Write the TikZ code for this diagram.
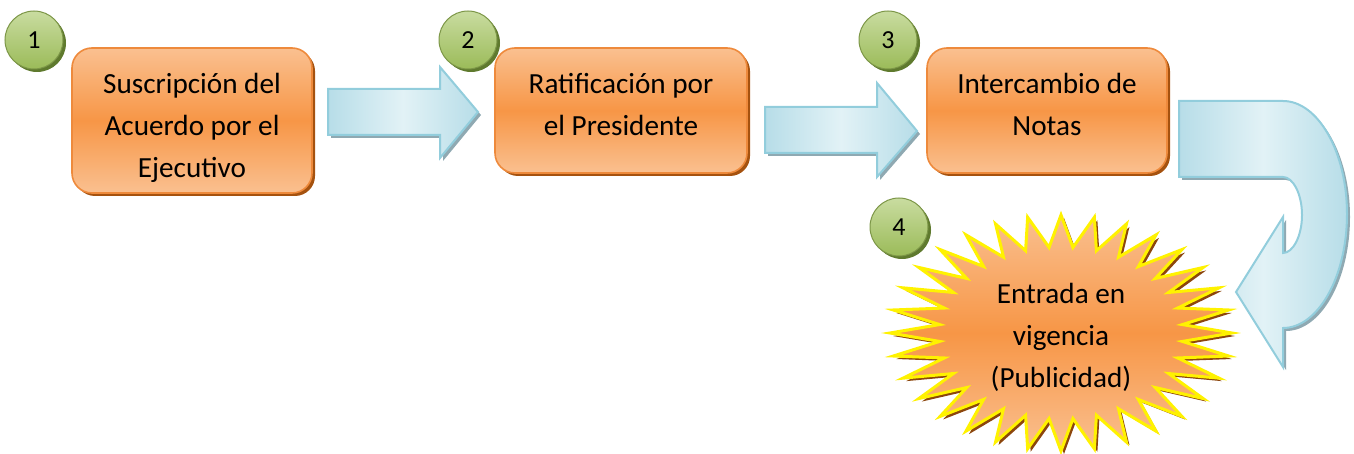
\documentclass[tikz,border=0pt]{standalone}
\usepackage{fontspec}
\setmainfont{Carlito}
\usepackage{xcolor}
\usetikzlibrary{shadows}

\definecolor{naranja}{HTML}{F79646}
\definecolor{naranjaclaro}{HTML}{FAC090}
\definecolor{naranjaborde}{HTML}{EE8A3C}
\definecolor{sombra}{HTML}{A5520F}
\definecolor{verde}{HTML}{9BBB59}
\definecolor{verdeclaro}{HTML}{C9DCA0}
\definecolor{verdeoscuro}{HTML}{5F7A2E}
\definecolor{celeste}{HTML}{E2F2F6}
\definecolor{celestemedio}{HTML}{B7DDE8}
\definecolor{celesteborde}{HTML}{92CDDC}
\definecolor{grisazul}{HTML}{8FA9B2}

\begin{document}
\begin{tikzpicture}[x=0.5pt,y=-0.5pt]
\tikzstyle{paso}=[draw=naranjaborde,line width=0.8pt,rounded corners=10pt,top color=naranjaclaro,bottom color=naranjaclaro,middle color=naranja,align=center,font=\fontsize{14.6}{21}\selectfont,drop shadow={shadow xshift=1.5pt,shadow yshift=-1.5pt,fill=sombra,opacity=1}];
\tikzstyle{numero}=[circle,draw=verde!80!black,line width=0.5pt,minimum size=29pt,inner sep=0pt,top color=verdeclaro,bottom color=verde,font=\fontsize{13}{15}\selectfont,drop shadow={shadow xshift=1.5pt,shadow yshift=-1.5pt,fill=verdeoscuro,opacity=1}];
\tikzstyle{flecha}=[draw=celesteborde,line width=1pt,line join=miter,left color=celestemedio,right color=celestemedio,middle color=celeste,drop shadow={shadow xshift=1.5pt,shadow yshift=-1.5pt,fill=grisazul,opacity=1}];
\tikzstyle{estrella}=[draw=yellow,line width=1.5pt,line join=miter,top color=naranjaclaro,bottom color=naranjaclaro,middle color=naranja,drop shadow={shadow xshift=1.5pt,shadow yshift=-1.5pt,fill=sombra!85!black,opacity=1}];
\useasboundingbox (0,0) rectangle (1354,454);

\node[paso,minimum width=120pt,minimum height=72.5pt](s1) at (192,120.5) {\rule{0pt}{18pt}Suscripción del\\Acuerdo por el\\Ejecutivo};
\node[paso,minimum width=126pt,minimum height=62.5pt](s2) at (621,110.5) {Ratificación por\\el Presidente\rule[-6pt]{0pt}{6pt}};
\node[paso,minimum width=120pt,minimum height=62.5pt](s3) at (1047,110.5) {Intercambio de\\Notas\rule[-6pt]{0pt}{6pt}};

% flechas
\draw[flecha] (328,89)--(440,89)--(440,67)--(478,112)--(440,158)--(440,135)--(328,135)--cycle;
\draw[flecha] (765,107)--(877,107)--(877,83)--(917,131)--(877,177)--(877,153)--(765,153)--cycle;
\draw[flecha] (1179,101)--(1283,101) .. controls (1318,101) and (1347,152) .. (1347,214)
  .. controls (1347,277) and (1318,328) .. (1283,328)--(1283,367)--(1236,292)--(1283,217)--(1283,253)
  .. controls (1293,253) and (1302,236) .. (1302,215) .. controls (1302,194) and (1293,177) .. (1283,177)
  --(1179,177)--cycle;

% estrella
\draw[estrella] (1232,333) foreach \k in {1,...,63} {--({1061+ifthenelse(isodd(\k),122,171)*cos(\k*5.625)},{333+ifthenelse(isodd(\k),86,118)*sin(\k*5.625)})}--cycle;
\node[align=center,font=\fontsize{14.6}{21}\selectfont](s4) at (1061,337) {Entrada en\\vigencia\\(Publicidad)};

\node[numero](n1) at (34,40) {1};
\node[numero](n2) at (468,40) {2};
\node[numero](n3) at (888,40) {3};
\node[numero](n4) at (899,227) {4};
\end{tikzpicture}
\end{document}
